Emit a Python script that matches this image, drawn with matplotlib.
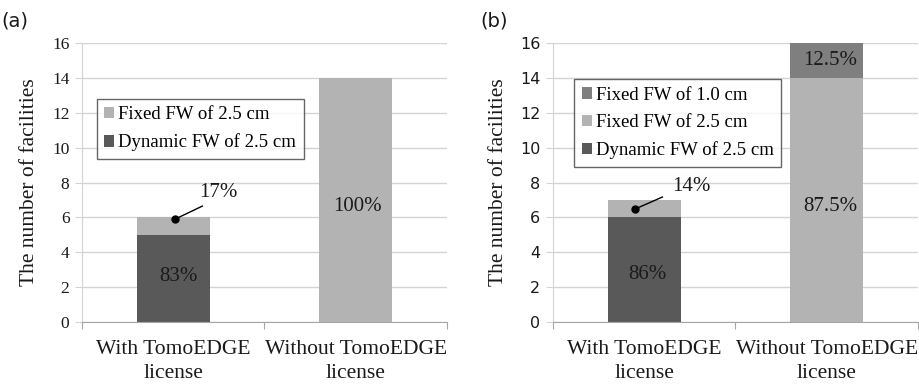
import numpy as np
import matplotlib
matplotlib.use("Agg")
from matplotlib import pyplot as plt

categories = ["With TomoEDGE\nlicense", "Without TomoEDGE\nlicense"]

# panel (a)
a_dynamic25 = [5, 0]
a_fixed25 = [1, 14]
a_pct = ["83%", "17%", "100%"]

# panel (b)
b_dynamic25 = [6, 0]
b_fixed25 = [1, 14]
b_fixed10 = [0, 2]
b_pct = ["86%", "14%", "87.5%", "12.5%"]

c_dark = "#595959"
c_light = "#b3b3b3"
c_mid = "#7f7f7f"
c_text = "#1a1a1a"
c_grid = "#d4d4d4"

plt.rcParams["font.family"] = ["Liberation Serif", "DejaVu Serif"]

fig = plt.figure(figsize=(9.19, 3.89), dpi=100)
ax1 = fig.add_axes([0.0892, 0.172, 0.397, 0.7175])
ax2 = fig.add_axes([0.6017, 0.172, 0.397, 0.7175])


def style(ax, tickfont, ticksize):
    x = np.arange(len(categories))
    ax.set_xlim(-0.5, 1.5)
    ax.set_ylim(0, 16)
    ax.set_yticks(range(0, 17, 2))
    ax.yaxis.grid(True, color=c_grid, lw=1)
    ax.set_axisbelow(True)
    for s in ["top", "right"]:
        ax.spines[s].set_visible(False)
    ax.spines["left"].set_color(c_grid)
    ax.spines["bottom"].set_color("#a6a6a6")
    ax.tick_params(axis="y", length=5, color=c_grid, labelsize=ticksize,
                   labelcolor=c_text, pad=4)
    for lab in ax.get_yticklabels():
        lab.set_family(tickfont)
    ax.set_xticks([-0.5, 0.5, 1.5])
    ax.set_xticklabels([])
    ax.tick_params(axis="x", length=5, color="#a6a6a6")
    for i, c in enumerate(categories):
        ax.text(x[i], -1.05, c, ha="center", va="top", fontsize=15.5,
                color=c_text, linespacing=1.35)
    ax.set_ylabel("The number of facilities", fontsize=15.5, color=c_text,
                  labelpad=9)


def callout(ax, dot, end, txt, txtpos):
    ax.plot([dot[0], end[0]], [dot[1], end[1]], color="black", lw=1)
    ax.plot(dot[0], dot[1], "o", color="black", ms=5)
    ax.text(txtpos[0], txtpos[1], txt, ha="center", va="center", fontsize=15,
            color=c_text)


# ---- (a)
x = np.arange(len(categories))
ax1.bar(x, a_dynamic25, 0.4, color=c_dark, label="Dynamic FW of 2.5 cm")
ax1.bar(x, a_fixed25, 0.4, bottom=a_dynamic25, color=c_light,
        label="Fixed FW of 2.5 cm")
style(ax1, "Liberation Serif", 12.5)
ax1.text(0.03, 2.6, a_pct[0], ha="center", va="center", fontsize=15, color=c_text)
ax1.text(1.01, 6.6, a_pct[2], ha="center", va="center", fontsize=15, color=c_text)
callout(ax1, (0.01, 5.9), (0.16, 6.65), a_pct[1], (0.25, 7.45))
h, l = ax1.get_legend_handles_labels()
leg = ax1.legend(h[::-1], l[::-1], loc="upper left",
                 bbox_to_anchor=(0.04, 0.8), fontsize=13.5, frameon=True,
                 fancybox=False, edgecolor="#404040", handlelength=0.55,
                 handleheight=0.55, handletextpad=0.2, labelspacing=0.55,
                 borderpad=0.4, borderaxespad=0)
leg.get_frame().set_linewidth(1)
ax1.text(-0.22, 1.06, "(a)", transform=ax1.transAxes, fontsize=14,
         family="DejaVu Sans", color=c_text)

# ---- (b)
ax2.bar(x, b_dynamic25, 0.4, color=c_dark, label="Dynamic FW of 2.5 cm")
ax2.bar(x, b_fixed25, 0.4, bottom=b_dynamic25, color=c_light,
        label="Fixed FW of 2.5 cm")
ax2.bar(x, b_fixed10, 0.4, bottom=np.add(b_dynamic25, b_fixed25),
        color=c_mid, label="Fixed FW of 1.0 cm")
style(ax2, "DejaVu Sans", 11.5)
ax2.text(0.02, 2.7, b_pct[0], ha="center", va="center", fontsize=15, color=c_text)
ax2.text(1.02, 6.65, b_pct[2], ha="center", va="center", fontsize=15, color=c_text)
ax2.text(1.02, 15.0, b_pct[3], ha="center", va="center", fontsize=15, color=c_text)
callout(ax2, (-0.05, 6.48), (0.10, 7.17), b_pct[1], (0.26, 7.75))
h, l = ax2.get_legend_handles_labels()
leg = ax2.legend(h[::-1], l[::-1], loc="upper left",
                 bbox_to_anchor=(0.058, 0.87), fontsize=13.5, frameon=True,
                 fancybox=False, edgecolor="#404040", handlelength=0.55,
                 handleheight=0.55, handletextpad=0.2, labelspacing=0.55,
                 borderpad=0.4, borderaxespad=0)
leg.get_frame().set_linewidth(1)
ax2.text(-0.2, 1.06, "(b)", transform=ax2.transAxes, fontsize=14,
         family="DejaVu Sans", color=c_text)

fig.savefig("out.png", dpi=100)
